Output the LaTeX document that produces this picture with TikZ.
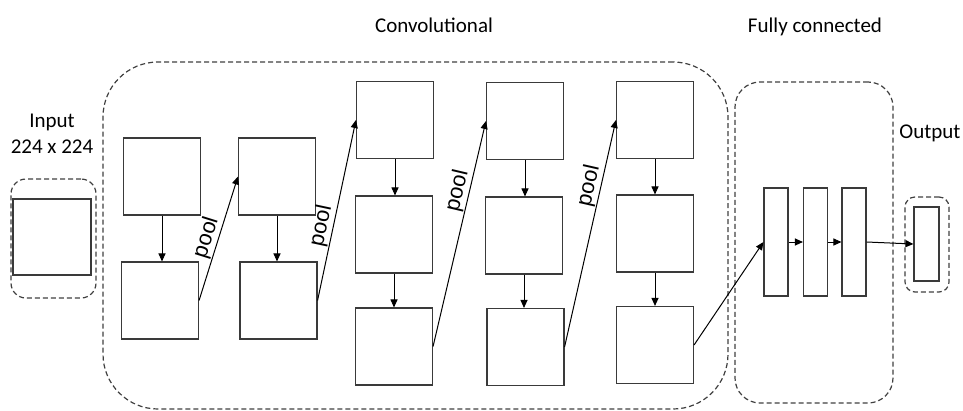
\documentclass[tikz,border=0pt]{standalone}
\usepackage{fontspec}
\setmainfont{Carlito}
\newfontfamily\poolfont{Liberation Sans}
\usetikzlibrary{arrows.meta}

\definecolor{edge}{HTML}{3A3A3A}
\definecolor{dashc}{HTML}{404040}

\tikzset{
  layer/.style={draw=edge, line width=1.1pt, fill=white, inner sep=0pt,
    minimum width=77pt, minimum height=77pt},
  fclayer/.style={draw=edge, line width=1.1pt, fill=white, inner sep=0pt,
    minimum width=24pt, minimum height=108pt},
  group/.style={draw=dashc, line width=1.2pt, dash pattern=on 5pt off 3pt,
    inner sep=0pt},
  arr/.style={draw=black, line width=1pt, -{Triangle[length=8pt,width=7pt]}},
  heading/.style={font=\fontsize{21}{25}\selectfont, anchor=base, inner sep=0pt},
  poollabel/.style={font=\poolfont\fontsize{22}{24}\selectfont, sloped, above,
    inner sep=1pt}
}

\begin{document}
\begin{tikzpicture}[x=1pt,y=-1pt]
\useasboundingbox (0,0) rectangle (963,410);

% dashed groups
\node[group, rounded corners=55pt, minimum width=625pt, minimum height=347pt]
  (conv) at (415.5,235.5) {};
\node[group, rounded corners=25pt, minimum width=158pt, minimum height=321pt]
  (fc) at (814,242.5) {};
\node[group, rounded corners=15pt, minimum width=85pt, minimum height=119pt]
  (ingrp) at (53.5,238.5) {};
\node[group, rounded corners=10pt, minimum width=44pt, minimum height=95pt]
  (outgrp) at (927,244.5) {};

% headings
\node[heading] (convlbl) at (434,32) {Convolutional};
\node[heading] (fclbl) at (815,32) {Fully connected};
\node[heading] (inlbl) at (52,127) {Input};
\node[heading] (insize) at (52,153) {224 x 224};
\node[heading] (outlbl) at (930,138) {Output};

% input image
\node[layer, minimum width=78pt, minimum height=76pt] (in) at (52,237) {};

% convolutional blocks
\node[layer] (c1a) at (162,176.5) {};
\node[layer] (c1b) at (160,300.5) {};
\node[layer] (c2a) at (277,176.5) {};
\node[layer] (c2b) at (278.5,300.5) {};
\node[layer] (c3a) at (395,120) {};
\node[layer] (c3b) at (394,234.5) {};
\node[layer] (c3c) at (394,346.5) {};
\node[layer] (c4a) at (525,121) {};
\node[layer] (c4b) at (524,235.5) {};
\node[layer] (c4c) at (525.5,347) {};
\node[layer] (c5a) at (655,120) {};
\node[layer] (c5b) at (655,233.5) {};
\node[layer] (c5c) at (655,345) {};

% fully connected layers and output
\node[fclayer] (f1) at (776,242) {};
\node[fclayer] (f2) at (815.5,242) {};
\node[fclayer] (f3) at (854,242) {};
\node[layer, minimum width=25pt, minimum height=74pt] (out) at (926.5,244) {};

% convolutions within a block
\draw[arr] (c1a.south) -- (c1a.south |- c1b.north);
\draw[arr] (c2a.south) -- (c2a.south |- c2b.north);
\draw[arr] (c3a.south) -- (c3a.south |- c3b.north);
\draw[arr] (c3b.south) -- (c3b.south |- c3c.north);
\draw[arr] (c4a.south) -- (c4a.south |- c4b.north);
\draw[arr] (c4b.south) -- (c4b.south |- c4c.north);
\draw[arr] (c5a.south) -- (c5a.south |- c5b.north);
\draw[arr] (c5b.south) -- (c5b.south |- c5c.north);

% pooling between blocks
\draw[arr] (c1b.east) -- node[poollabel, pos=0.48] {pool} (c2a.west);
\draw[arr] (c2b.east) -- node[poollabel, pos=0.40] {pool} (c3a.west);
\draw[arr] (c3c.east) -- node[poollabel, pos=0.68] {pool} (c4a.west);
\draw[arr] (c4c.east) -- node[poollabel, pos=0.70] {pool} (c5a.west);

% into the classifier
\draw[arr] (c5c.east) -- (f1.west);
\draw[arr] (f1.east) -- (f2.west);
\draw[arr] (f2.east) -- (f3.west);
\draw[arr] (f3.east) -- (out.west);
\end{tikzpicture}
\end{document}
